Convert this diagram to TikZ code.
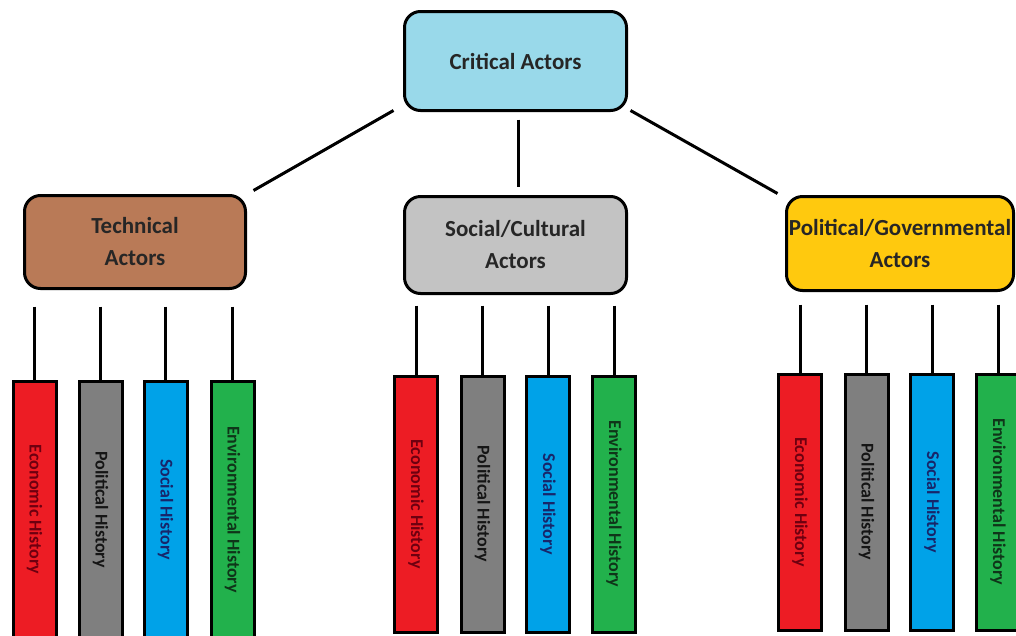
\documentclass[tikz,border=0pt]{standalone}
\usepackage{fontspec}
\setmainfont{Carlito}
\usepackage{tikz}
\usetikzlibrary{positioning}
\definecolor{critblue}{HTML}{99D9EA}
\definecolor{techbrown}{HTML}{B97A57}
\definecolor{socgray}{HTML}{C3C3C3}
\definecolor{polyellow}{HTML}{FFC90E}
\definecolor{ecored}{HTML}{ED1C24}
\definecolor{histgray}{HTML}{7F7F7F}
\definecolor{histblue}{HTML}{00A2E8}
\definecolor{envgreen}{HTML}{22B14C}
\definecolor{ecotext}{HTML}{6E0010}
\definecolor{histtext}{HTML}{151515}
\definecolor{bluetext}{HTML}{18266A}
\definecolor{greentext}{HTML}{0F3519}
\tikzset{
  % kasten
  actor/.style={draw=black,line width=3pt,rounded corners=16pt,align=center,
                inner sep=0pt,text=black!85,
                font=\fontsize{23}{32}\selectfont\bfseries},
  link/.style={draw=black,line width=3pt},
  % staplar (rotate=-90: west = oben)
  bar/.style={draw=black,line width=3pt,rotate=-90,anchor=west,inner sep=0pt,
              minimum height=43pt,font=\fontsize{18}{20}\selectfont\bfseries},
  eco/.style={bar,fill=ecored,text=ecotext},
  pol/.style={bar,fill=histgray,text=histtext},
  soc/.style={bar,fill=histblue,text=bluetext},
  env/.style={bar,fill=envgreen,text=greentext},
}
\begin{document}
\begin{tikzpicture}[x=1pt,y=1pt]
  \useasboundingbox (0,0) rectangle (1016,-635);
  \node[actor,fill=critblue,minimum width=222,minimum height=99] (crit) at (515.5,-61) {Critical Actors};
  \node[actor,fill=techbrown,minimum width=221,minimum height=93] (tech) at (135,-242) {Technical\\Actors};
  \node[actor,fill=socgray,minimum width=222,minimum height=97] (social) at (515.5,-245) {Social/Cultural\\Actors};
  \node[actor,fill=polyellow,minimum width=227,minimum height=94] (polit) at (900,-243.5) {Political/Governmental\\Actors};
  \draw[link] ([shift={(-9.5,1.5)}]crit.south west) -- ([shift={(6.5,3.5)}]tech.north east);
  \draw[link] ([shift={(2.5,-7.5)}]crit.south) -- ([shift={(2.5,8.5)}]social.north);
  \draw[link] ([shift={(2.5,1.5)}]crit.south east) -- ([shift={(-7.5,1.5)}]polit.north west);
  % technical
  \node[eco,minimum width=257] (te) at (34.5,-379.5) {Economic History};
  \node[pol,minimum width=257] (tp) at (100.5,-379.5) {Political History};
  \node[soc,minimum width=257] (ts) at (165.5,-379.5) {Social History};
  \node[env,minimum width=257] (tv) at (232.5,-379.5) {Environmental History};
  \draw[link,shorten <=16.5pt] (tech.south -| te) -- (te.west);
  \draw[link,shorten <=16.5pt] (tech.south -| tp) -- (tp.west);
  \draw[link,shorten <=16.5pt] (tech.south -| ts) -- (ts.west);
  \draw[link,shorten <=16.5pt] (tech.south -| tv) -- (tv.west);
  % social/cultural
  \node[eco,minimum width=256] (se) at (416,-374.5) {Economic History};
  \node[pol,minimum width=256] (sp) at (482.5,-374.5) {Political History};
  \node[soc,minimum width=256] (ss) at (548,-374.5) {Social History};
  \node[env,minimum width=256] (sv) at (614,-374.5) {Environmental History};
  \draw[link,shorten <=10.5pt] (social.south -| se) -- (se.west);
  \draw[link,shorten <=10.5pt] (social.south -| sp) -- (sp.west);
  \draw[link,shorten <=10.5pt] (social.south -| ss) -- (ss.west);
  \draw[link,shorten <=10.5pt] (social.south -| sv) -- (sv.west);
  % political/governmental
  \node[eco,minimum width=256] (pe) at (800,-372.5) {Economic History};
  \node[pol,minimum width=256] (pp) at (866.5,-372.5) {Political History};
  \node[soc,minimum width=256] (ps) at (932,-372.5) {Social History};
  \node[env,minimum width=256] (pv) at (998,-372.5) {Environmental History};
  \draw[link,shorten <=12.5pt] (polit.south -| pe) -- (pe.west);
  \draw[link,shorten <=12.5pt] (polit.south -| pp) -- (pp.west);
  \draw[link,shorten <=12.5pt] (polit.south -| ps) -- (ps.west);
  \draw[link,shorten <=12.5pt] (polit.south -| pv) -- (pv.west);
\end{tikzpicture}
\end{document}
